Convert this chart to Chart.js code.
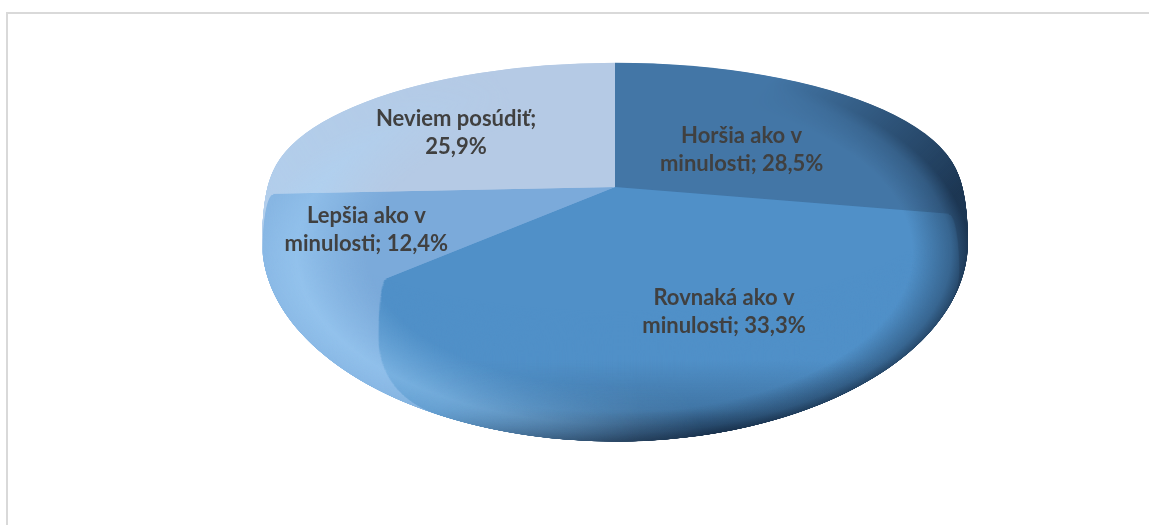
<!DOCTYPE html>
<html lang="sk">
<head>
<meta charset="utf-8">
<title>Hodnotenie v porovnaní s minulosťou</title>
<script src="https://cdn.jsdelivr.net/npm/chart.js@4.4.1/dist/chart.umd.min.js"></script>
<style>
  html, body { margin: 0; padding: 0; background: #fff; }
  #frame {
    position: absolute; left: 6px; top: 12px;
    width: 1200px; height: 600px;
    border: 2px solid #d9d9d9; box-sizing: border-box;
  }
  #wrap { position: absolute; left: 0; top: 0; width: 1149px; height: 525px; }
</style>
</head>
<body>
<div id="frame"></div>
<div id="wrap"><canvas id="pie"></canvas></div>
<script>
const categories = ['Horšia ako v minulosti', 'Rovnaká ako v minulosti', 'Lepšia ako v minulosti', 'Neviem posúdiť'];
const shares = [28.5, 33.3, 12.4, 25.9];
const sliceColors = ['#4376a6', '#5090c8', '#7baada', '#b5cae5'];

// tilted disc with a soft rounded edge: the top face, where the bevel is widest,
// and how far down the rounded underside reaches
const FACE = { x: 615, y: 187, rx: 353, ry: 128 };
const BEVEL = 55;
const DEPTH = 208;
// outline of the whole shape, used for shading
const BODY = { x: 615, y: 252, rx: 354, ry: 191 };

function bevelScale(d) {
    if (d <= BEVEL) {
        const u = (BEVEL - d) / BEVEL;
        return 1 - 0.03 * (1 - Math.sqrt(1 - u * u));
    }
    const u = (d - BEVEL) / (DEPTH - BEVEL);
    return Math.sqrt(Math.max(0, 1 - u * u));
}

function layerTransform(ctx, arc, d) {
    const s = bevelScale(d);
    ctx.translate(FACE.x, FACE.y + d);
    ctx.scale(s * FACE.rx / arc.outerRadius, s * FACE.ry / arc.outerRadius);
    ctx.translate(-arc.x, -arc.y);
}

function ringGradient(o, rgb, stops) {
    o.save();
    o.translate(BODY.x, BODY.y);
    o.scale(BODY.rx, BODY.ry);
    const g = o.createRadialGradient(0, 0, 0, 0, 0, 1);
    stops.forEach(s => g.addColorStop(s[0], `rgba(${rgb},${s[1]})`));
    o.fillStyle = g;
    o.fillRect(-2, -2, 4, 4);
    o.restore();
}

function bandGradient(o, rgb, from, to, stops) {
    const g = o.createLinearGradient(from[0], from[1], to[0], to[1]);
    stops.forEach(s => g.addColorStop(s[0], `rgba(${rgb},${s[1]})`));
    o.fillStyle = g;
    o.fillRect(0, 0, o.canvas.width, o.canvas.height);
}

// paint a shading layer off screen, fade it with a linear mask,
// then lay it only over what is already drawn
function shade(chart, paint, from, to, maskStops) {
    const off = document.createElement('canvas');
    off.width = chart.width;
    off.height = chart.height;
    const o = off.getContext('2d');
    paint(o);
    o.globalCompositeOperation = 'destination-in';
    bandGradient(o, '0,0,0', from, to, maskStops);

    const ctx = chart.ctx;
    ctx.save();
    ctx.setTransform(1, 0, 0, 1, 0, 0);
    ctx.globalCompositeOperation = 'source-atop';
    ctx.drawImage(off, 0, 0);
    ctx.restore();
}

function formatShare(v) {
    return v.toFixed(1).replace('.', ',') + '%';
}

function wrapText(ctx, text, maxWidth) {
    const words = text.split(' ');
    const lines = [];
    let line = '';
    words.forEach(w => {
        const test = line ? line + ' ' + w : w;
        if (line && ctx.measureText(test).width > maxWidth) {
            lines.push(line);
            line = w;
        } else {
            line = test;
        }
    });
    if (line) lines.push(line);
    return lines;
}

const tiltedPie = {
    id: 'tiltedPie',
    beforeDatasetsDraw(chart) {
        const ctx = chart.ctx;
        const arcs = chart.getDatasetMeta(0).data;
        if (!arcs.length) return;

        // underside of the disc: the slices stacked downwards, shrinking
        for (let d = DEPTH; d > 0; d -= 1) {
            ctx.save();
            layerTransform(ctx, arcs[0], d);
            arcs.forEach(a => a.draw(ctx));
            ctx.restore();
        }

        ctx.save();
        layerTransform(ctx, arcs[0], 0);
    },
    afterDatasetsDraw(chart) {
        const ctx = chart.ctx;
        const arcs = chart.getDatasetMeta(0).data;
        if (!arcs.length) return;
        ctx.restore();

        // shadow on the right rim
        shade(chart, o => ringGradient(o, '18,38,62', [[0, 0], [0.84, 0], [0.95, 0.4], [1, 0.8]]),
            [520, 120], [820, 420], [[0, 0], [0.35, 0], [0.85, 1], [1, 1]]);
        // darker underside towards the bottom
        shade(chart, o => bandGradient(o, '18,38,62', [0, 360], [0, 442], [[0, 0], [0.6, 0.25], [1, 0.7]]),
            [380, 0], [640, 0], [[0, 0], [1, 1]]);
        // light along the lower left rim
        shade(chart, o => ringGradient(o, '170,218,255', [[0, 0], [0.7, 0], [0.9, 0.55], [1, 0.3]]),
            [300, 330], [560, 180], [[0, 1], [1, 0]]);

        // data labels
        const opts = chart.options.plugins.tiltedPie;
        ctx.save();
        ctx.font = opts.font;
        ctx.fillStyle = opts.color;
        ctx.textAlign = 'center';
        ctx.textBaseline = 'middle';
        arcs.forEach((a, i) => {
            const mid = (a.startAngle + a.endAngle) / 2;
            const f = opts.radius[i];
            const x = FACE.x + Math.cos(mid) * FACE.rx * f;
            const y = FACE.y + Math.sin(mid) * FACE.ry * f;
            const text = chart.data.labels[i] + '; ' + formatShare(chart.data.datasets[0].data[i]);
            const lines = wrapText(ctx, text, opts.maxWidth);
            const top = y - (lines.length - 1) * opts.lineHeight / 2;
            lines.forEach((l, k) => ctx.fillText(l, x, top + k * opts.lineHeight));
        });
        ctx.restore();
    }
};

new Chart(document.getElementById('pie'), {
    type: 'pie',
    data: {
        labels: categories,
        datasets: [{
            data: shares,
            backgroundColor: sliceColors,
            borderWidth: 0,
            clip: false
        }]
    },
    options: {
        responsive: true,
        maintainAspectRatio: false,
        animation: false,
        events: [],
        layout: { padding: 0 },
        plugins: {
            legend: { display: false },
            tooltip: { enabled: false },
            tiltedPie: {
                font: 'bold 22px Lato, "Liberation Sans", sans-serif',
                color: '#404040',
                lineHeight: 28,
                maxWidth: 195,
                radius: [0.46, 1.02, 0.78, 0.62]
            }
        }
    },
    plugins: [tiltedPie]
});
</script>
</body>
</html>
